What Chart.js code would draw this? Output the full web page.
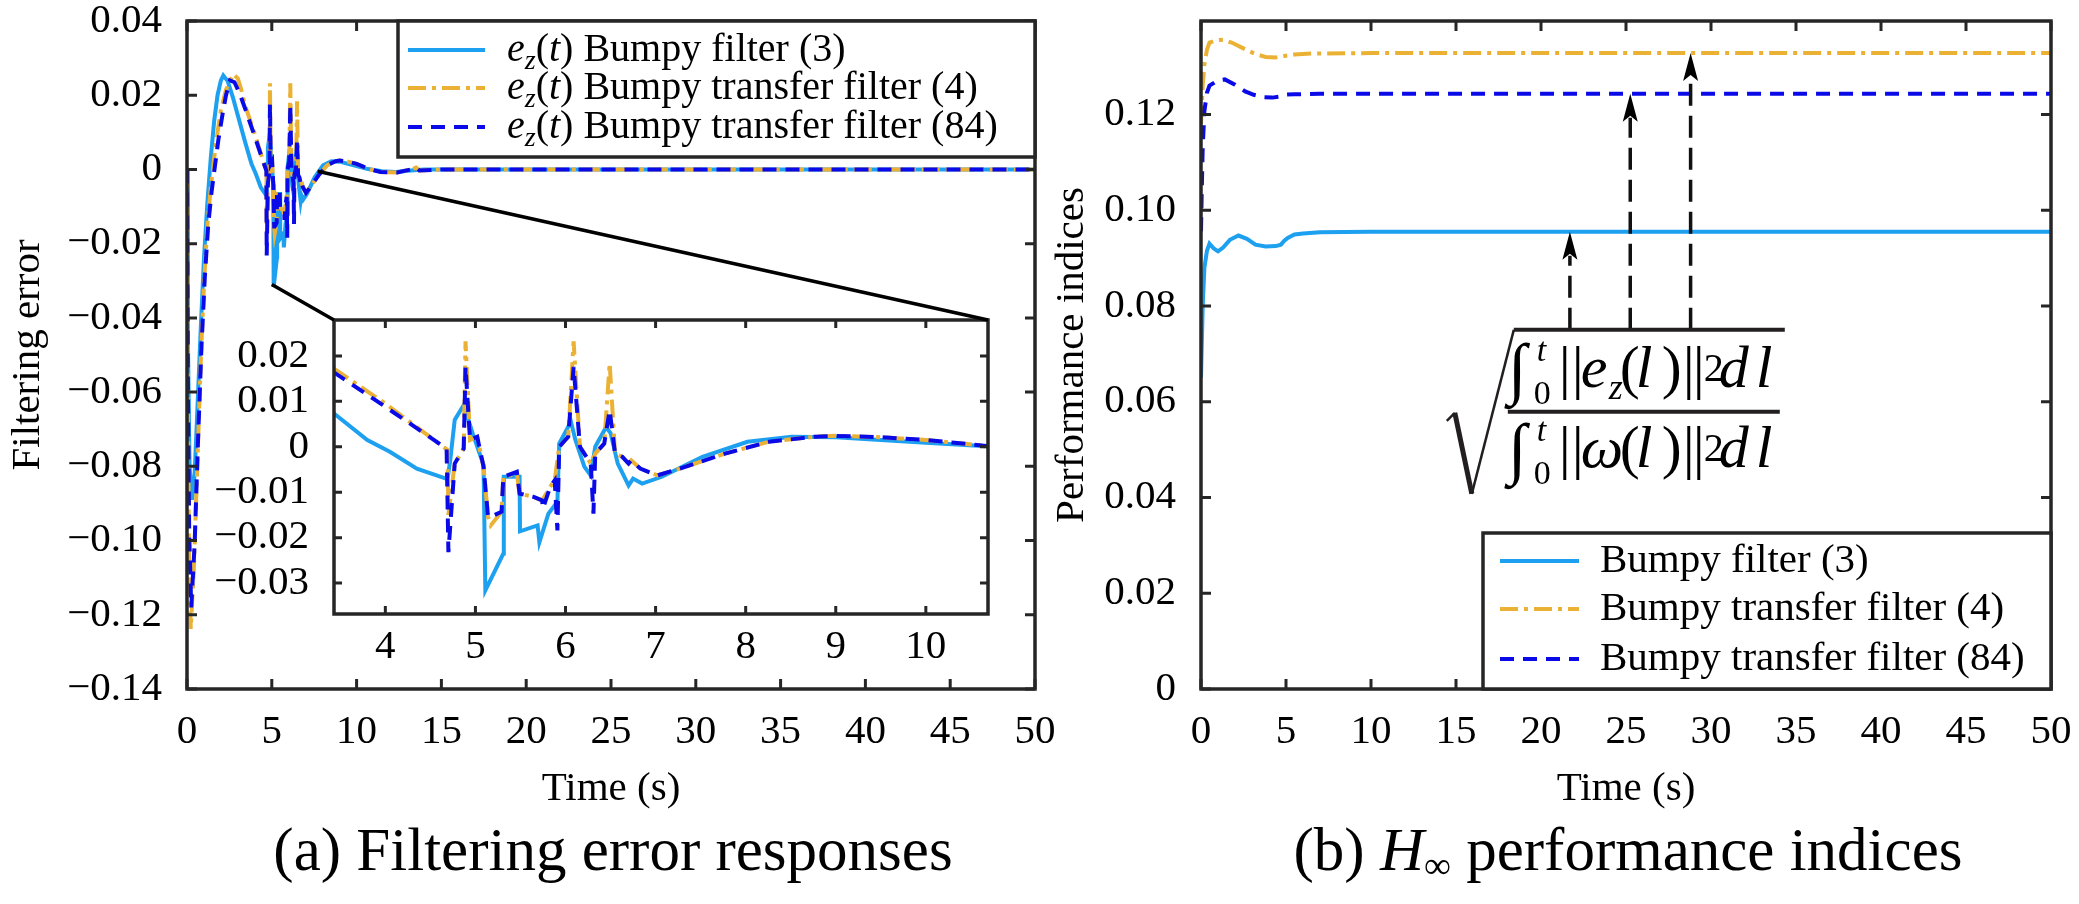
<!DOCTYPE html>
<html>
<head>
<meta charset="utf-8">
<script src="https://cdn.jsdelivr.net/npm/chart.js@4.4.1/dist/chart.umd.min.js"></script>
<style>
  body { margin: 0; background: #fff; width: 2079px; height: 904px; overflow: hidden; position: relative;
         font-family: "Liberation Serif", "Times New Roman", serif; }
  canvas { position: absolute; top: 0; }
  .cap { position: absolute; top: 819px; font-size: 61px; line-height: 61px; white-space: nowrap; transform: translateX(-50%); color: #000; }
  .cap sub { font-size: 0.62em; vertical-align: -0.22em; line-height: 0; }
</style>
</head>
<body>
<canvas id="errChart" width="1100" height="904" style="left:0"></canvas>
<canvas id="zoomChart" width="1100" height="904" style="left:0"></canvas>
<canvas id="perfChart" width="1039" height="904" style="left:1040px"></canvas>
<div class="cap" style="left:613px">(a) Filtering error responses</div>
<div class="cap" style="left:1628px">(b) <i>H</i><sub>∞</sub> performance indices</div>
<script>
// ---- data ----
const seriesNames = ['Bumpy filter (3)', 'Bumpy transfer filter (4)', 'Bumpy transfer filter (84)'];

const timeTicks = [0, 5, 10, 15, 20, 25, 30, 35, 40, 45, 50];
const errTicks = [-0.14, -0.12, -0.10, -0.08, -0.06, -0.04, -0.02, 0, 0.02, 0.04];
const zoomTimeTicks = [4, 5, 6, 7, 8, 9, 10];
const zoomErrTicks = [-0.03, -0.02, -0.01, 0, 0.01, 0.02];
const perfTicks = [0, 0.02, 0.04, 0.06, 0.08, 0.10, 0.12];

const timeBumpy = [0, 0.05, 0.15, 0.3, 0.45, 0.6, 0.8, 1.0, 1.2, 1.4, 1.6, 1.8, 2.0, 2.14, 2.4, 2.7, 3.0, 3.42, 3.8, 4.05,
  4.35, 4.69, 4.72, 4.77, 4.87, 4.97, 5.09, 5.11, 5.31, 5.315, 5.49, 5.495, 5.69, 5.71, 5.81, 5.91, 5.93, 6.06, 6.11, 6.21,
  6.28, 6.33, 6.45, 6.5, 6.58, 6.70, 6.75, 6.85, 7.07, 7.52, 8.02, 8.51, 9.0, 9.5, 10.0, 10.67, 11.5, 12.3, 13.2, 14, 16, 50];
const errBumpy = [0, -0.045, -0.080, -0.089, -0.082, -0.066, -0.044, -0.024, -0.009, 0.003, 0.013, 0.020, 0.024, 0.0253, 0.0238, 0.0195, 0.0145, 0.0075, 0.0015, -0.0011,
  -0.0048, -0.0071, -0.003, 0.0059, 0.0092, 0.0029, -0.004, -0.0316, -0.0235, -0.0066, -0.0066, -0.0186, -0.0173, -0.021, -0.0147, -0.0121, 0.0007, 0.0055, 0.0015, -0.0044,
  -0.0063, 0, 0.0043, 0.003, -0.0037, -0.0085, -0.007, -0.0081, -0.0066, -0.0022, 0.0011, 0.0022, 0.0021, 0.0015, 0.0009, 0.0001, -0.0005, -0.0007, -0.0003, 0, 0, 0];

const timeTrans4 = [0, 0.05, 0.12, 0.22, 0.4, 0.6, 0.8, 1.0, 1.2, 1.4, 1.6, 1.8, 2.0, 2.3, 2.73, 3.0, 3.2, 3.42, 4.0, 4.69,
  4.70, 4.77, 4.87, 4.89, 4.94, 5.02, 5.09, 5.14, 5.17, 5.29, 5.31, 5.46, 5.49, 5.64, 5.74, 5.83, 5.88, 5.93, 6.03, 6.09,
  6.16, 6.28, 6.33, 6.43, 6.49, 6.55, 6.63, 6.70, 6.73, 6.83, 7.02, 7.27, 7.77, 8.26, 8.76, 9.0, 9.5, 10.0, 10.67, 11.4,
  12.4, 13.3, 13.5, 13.7, 15, 50];
const errTrans4 = [0, -0.06, -0.105, -0.1238, -0.108, -0.081, -0.053, -0.031, -0.015, -0.005, 0.003, 0.010, 0.016, 0.0215, 0.0257, 0.0245, 0.0215, 0.0173, 0.0095, -0.0007,
  -0.015, -0.0037, -0.0004, 0.0232, 0.0015, 0.0022, -0.0044, -0.0154, -0.0173, -0.0143, -0.0066, -0.006, -0.0103, -0.011, -0.0118, -0.0088, -0.0074, 0, 0.0022, 0.0232,
  0, -0.0037, -0.0015, 0.0007, 0.0184, -0.0015, -0.0022, -0.0037, -0.003, -0.0048, -0.0063, -0.0048, -0.0015, 0.0011, 0.0022, 0.0024, 0.0021, 0.0015, 0.0002, -0.0007,
  -0.0008, 0.0001, 0.0005, -0.0003, 0, 0];

const timeTrans84 = [0, 0.05, 0.13, 0.25, 0.45, 0.65, 0.85, 1.05, 1.25, 1.45, 1.65, 1.85, 2.1, 2.3, 2.53, 2.8, 3.1, 3.42, 4.0, 4.68,
  4.70, 4.77, 4.87, 4.89, 4.94, 5.02, 5.09, 5.14, 5.17, 5.29, 5.31, 5.46, 5.49, 5.64, 5.74, 5.75, 5.83, 5.88, 5.91, 5.93,
  6.03, 6.09, 6.16, 6.28, 6.31, 6.33, 6.43, 6.49, 6.55, 6.63, 6.70, 6.73, 6.83, 7.02, 7.27, 7.77, 8.26, 8.76, 9.0, 9.5,
  10.0, 10.67, 11.4, 12.4, 13.3, 13.5, 13.7, 15, 50];
const errTrans84 = [0, -0.055, -0.098, -0.118, -0.101, -0.073, -0.048, -0.029, -0.015, -0.006, 0.001, 0.008, 0.015, 0.020, 0.024, 0.0235, 0.0205, 0.0165, 0.0088, -0.0004,
  -0.0232, -0.0037, -0.0004, 0.0176, 0.0015, 0.0022, -0.0044, -0.0154, -0.0154, -0.0143, -0.0066, -0.0055, -0.0103, -0.011, -0.0118, -0.0136, -0.0088, -0.0074, -0.0184, 0,
  0.0022, 0.0176, 0, -0.0037, -0.0147, -0.0015, 0.0007, 0.0081, -0.0015, -0.0022, -0.0037, -0.003, -0.0048, -0.0063, -0.0048, -0.0015, 0.0011, 0.0022, 0.0024, 0.0021,
  0.0015, 0.0002, -0.0007, -0.0008, 0.0001, 0.0005, -0.0003, 0, 0];

const timePerf3 = [0, 0.1, 0.2, 0.35, 0.5, 0.75, 1.0, 1.3, 1.7, 2.2, 2.7, 3.2, 3.8, 4.4, 4.7, 4.9, 5.1, 5.5, 6.0, 7.0, 10, 50];
const perf3 = [0.065, 0.080, 0.088, 0.0915, 0.093, 0.092, 0.0914, 0.0922, 0.0938, 0.0947, 0.094, 0.0928, 0.0924, 0.0925, 0.0928, 0.0936, 0.0942, 0.0949, 0.0951, 0.0954, 0.0955, 0.0955];
const timePerf4 = [0, 0.1, 0.2, 0.35, 0.5, 0.9, 1.3, 1.8, 2.6, 3.2, 3.8, 4.4, 4.9, 5.5, 6.5, 10, 50];
const perf4 = [0.118, 0.126, 0.1304, 0.1335, 0.135, 0.1355, 0.1356, 0.135, 0.1336, 0.1326, 0.132, 0.1319, 0.1322, 0.1325, 0.1327, 0.1328, 0.1328];
const timePerf84 = [0, 0.05, 0.1, 0.2, 0.35, 0.5, 1.0, 1.4, 2.0, 2.6, 3.1, 3.7, 4.2, 4.6, 4.9, 5.5, 7, 50];
const perf84 = [0.0956, 0.105, 0.113, 0.1207, 0.1245, 0.126, 0.1271, 0.1273, 0.1262, 0.1248, 0.1241, 0.1236, 0.1235, 0.1237, 0.1241, 0.1242, 0.1243, 0.1243];

// zoom window and connector anchors on the main error plot (time, error)
const zoomRange = { tMin: 3.43, tMax: 10.69, eMin: -0.0368, eMax: 0.0279 };
const zoomFrom = [[5.0, -0.031], [7.7, -0.0005]];
// arrows in panel (b): time of each arrow, series it points at, level of the formula bar
const arrowTimes = [21.7, 25.25, 28.8];
const arrowSeries = [0, 2, 1];
const formulaAt = [18.4, 0.075];

// ---- styles ----
const serif = '"Liberation Serif", "Times New Roman", serif';
const axisColor = '#262626';
Chart.defaults.font.family = serif;
Chart.defaults.color = '#000';

const styles = [
  { borderColor: '#1ea0f0', borderDash: [], order: 3 },
  { borderColor: '#ebb134', borderDash: [18, 6, 4, 6], order: 2 },
  { borderColor: '#0a0ae8', borderDash: [14, 9], order: 1 }
];

function series(times, values, i) {
  return Object.assign({
    label: seriesNames[i],
    data: times.map((t, k) => ({ x: t, y: values[k] })),
    pointRadius: 0, borderWidth: 4, tension: 0, fill: false
  }, styles[i]);
}

function fmt(v) {
  if (Math.abs(v) < 1e-9) return '0';
  return (v < 0 ? '\u2212' : '') + Math.abs(v).toFixed(2);
}

function setTicks(list) {
  return s => { s.ticks = list.map(v => ({ value: v })); };
}

function interp(times, values, t) {
  for (let k = 1; k < times.length; k++) {
    if (t <= times[k]) {
      const f = (t - times[k - 1]) / (times[k] - times[k - 1]);
      return values[k - 1] + f * (values[k] - values[k - 1]);
    }
  }
  return values[values.length - 1];
}

function xAxis(min, max, ticks, pad, height, title) {
  return {
    type: 'linear', min: min, max: max,
    afterBuildTicks: setTicks(ticks),
    ticks: { font: { size: 41 }, padding: pad, autoSkip: false, maxRotation: 0, callback: v => String(v) },
    grid: { display: false, drawTicks: false, tickLength: 0 },
    border: { display: false },
    title: title ? { display: true, text: title, font: { size: 41 }, padding: 0 } : { display: false },
    afterFit(s) { s.height = height; s.paddingLeft = 0; s.paddingRight = 0; }
  };
}

function yAxis(min, max, ticks, width, title) {
  return {
    type: 'linear', min: min, max: max,
    afterBuildTicks: setTicks(ticks),
    ticks: { font: { size: 41 }, padding: 25, autoSkip: false, callback: fmt },
    grid: { display: false, drawTicks: false, tickLength: 0 },
    border: { display: false },
    title: title ? { display: true, text: title, font: { size: 41 }, padding: 0 } : { display: false },
    afterFit(s) { s.width = width; s.paddingTop = 0; s.paddingBottom = 0; }
  };
}

// inward ticks on all four sides plus the box
const frameTicks = {
  id: 'frameTicks',
  beforeDatasetsDraw(chart, args, o) {
    if (!o.fill) return;
    const a = chart.chartArea, ctx = chart.ctx;
    ctx.save(); ctx.fillStyle = '#fff'; ctx.fillRect(a.left, a.top, a.width, a.height); ctx.restore();
  },
  afterDatasetsDraw(chart, args, o) {
    const { ctx, chartArea: a, scales: { x, y } } = chart;
    const len = o.len || 10;
    ctx.save();
    ctx.strokeStyle = axisColor;
    ctx.lineWidth = 3;
    ctx.beginPath();
    x.ticks.forEach(t => {
      const p = x.getPixelForValue(t.value);
      ctx.moveTo(p, a.bottom); ctx.lineTo(p, a.bottom - len);
      ctx.moveTo(p, a.top); ctx.lineTo(p, a.top + len);
    });
    y.ticks.forEach(t => {
      const p = y.getPixelForValue(t.value);
      ctx.moveTo(a.left, p); ctx.lineTo(a.left + len, p);
      ctx.moveTo(a.right, p); ctx.lineTo(a.right - len, p);
    });
    ctx.stroke();
    ctx.lineWidth = 3.5;
    ctx.strokeRect(a.left, a.top, a.width, a.height);
    ctx.restore();
  }
};

function drawRich(ctx, x, y, parts, size) {
  ctx.textBaseline = 'middle';
  ctx.textAlign = 'left';
  ctx.fillStyle = '#000';
  parts.forEach(p => {
    const s = p.sub ? size * 0.7 : size;
    ctx.font = (p.it ? 'italic ' : '') + s + 'px ' + serif;
    ctx.fillText(p.t, x, y + (p.sub ? size * 0.3 : 0));
    x += ctx.measureText(p.t).width;
  });
}

const legendBox = {
  id: 'legendBox',
  afterDraw(chart, args, o) {
    const { ctx, chartArea: a } = chart;
    const left = a.right - o.width;
    const top = o.atTop ? a.top : a.bottom - o.height;
    ctx.save();
    ctx.fillStyle = '#fff';
    ctx.fillRect(left, top, o.width, o.height);
    ctx.strokeStyle = axisColor;
    ctx.lineWidth = 3.5;
    ctx.strokeRect(left, top, o.width, o.height);
    chart.data.datasets.forEach((ds, i) => {
      const y = top + o.rows[i];
      ctx.strokeStyle = ds.borderColor;
      ctx.lineWidth = ds.borderWidth;
      ctx.setLineDash(ds.borderDash);
      ctx.beginPath(); ctx.moveTo(left + o.lineFrom, y); ctx.lineTo(left + o.lineTo, y); ctx.stroke();
      ctx.setLineDash([]);
      drawRich(ctx, left + o.textX, y, o.prefix.concat([{ t: o.prefix.length ? ' ' + ds.label : ds.label }]), o.size);
    });
    ctx.restore();
  }
};

// ---- (a) filtering error ----
const errDatasets = () => [series(timeBumpy, errBumpy, 0), series(timeTrans4, errTrans4, 1), series(timeTrans84, errTrans84, 2)];

const errChart = new Chart(document.getElementById('errChart'), {
  type: 'line',
  data: { datasets: errDatasets() },
  options: {
    responsive: false, animation: false, devicePixelRatio: 1,
    layout: { padding: { left: 4, top: 21, right: 65, bottom: 90 } },
    plugins: {
      legend: { display: false }, tooltip: { enabled: false },
      frameTicks: { len: 10 },
      legendBox: {
        atTop: true, width: 637, height: 136, rows: [29, 67, 106], lineFrom: 10, lineTo: 87, textX: 109, size: 40,
        prefix: [{ t: 'e', it: true }, { t: 'z', it: true, sub: true }, { t: '(' }, { t: 't', it: true }, { t: ')' }]
      }
    },
    scales: {
      x: xAxis(0, 50, timeTicks, 19, 904 - 689 - 90, 'Time (s)'),
      y: yAxis(-0.14, 0.04, errTicks, 183, 'Filtering error')
    }
  },
  plugins: [frameTicks, legendBox]
});

// ---- zoomed inset, drawn on a transparent canvas over panel (a) ----
const zoomLinks = {
  id: 'zoomLinks',
  afterDraw(chart) {
    const ctx = chart.ctx, a = chart.chartArea;
    const mx = errChart.scales.x, my = errChart.scales.y;
    const corners = [[a.left, a.top], [a.right, a.top]];
    ctx.save();
    ctx.strokeStyle = '#000';
    ctx.lineWidth = 3.5;
    ctx.beginPath();
    zoomFrom.forEach((p, i) => {
      ctx.moveTo(mx.getPixelForValue(p[0]), my.getPixelForValue(p[1]));
      ctx.lineTo(corners[i][0], corners[i][1]);
    });
    ctx.stroke();
    ctx.restore();
  }
};

new Chart(document.getElementById('zoomChart'), {
  type: 'line',
  data: { datasets: errDatasets() },
  options: {
    responsive: false, animation: false, devicePixelRatio: 1,
    layout: { padding: { left: 204, top: 320, right: 112, bottom: 220 } },
    plugins: { legend: { display: false }, tooltip: { enabled: false }, frameTicks: { len: 8, fill: true } },
    scales: {
      x: xAxis(zoomRange.tMin, zoomRange.tMax, zoomTimeTicks, 9, 904 - 614 - 220, null),
      y: yAxis(zoomRange.eMin, zoomRange.eMax, zoomErrTicks, 130, null)
    }
  },
  plugins: [frameTicks, zoomLinks]
});

// ---- (b) performance indices ----
const perfTimes = [timePerf3, timePerf4, timePerf84];
const perfValues = [perf3, perf4, perf84];

function glyph(ctx, x, y, text, size, italic) {
  ctx.font = (italic ? 'italic ' : '') + size + 'px ' + serif;
  ctx.fillText(text, x, y);
}

const formula = {
  id: 'formula',
  afterDatasetsDraw(chart) {
    const { ctx, scales: { x, y } } = chart;
    const ax = x.getPixelForValue(formulaAt[0]);
    const ay = y.getPixelForValue(formulaAt[1]);
    ctx.save();
    ctx.strokeStyle = '#111';
    ctx.fillStyle = '#000';
    // dashed arrows from the radical bar up to each curve
    arrowTimes.forEach((t, i) => {
      const s = arrowSeries[i];
      const px = x.getPixelForValue(t);
      const tip = y.getPixelForValue(interp(perfTimes[s], perfValues[s], t));
      ctx.lineWidth = 3.5;
      ctx.setLineDash([22, 10]);
      ctx.beginPath(); ctx.moveTo(px, ay); ctx.lineTo(px, tip + 24); ctx.stroke();
      ctx.setLineDash([]);
      ctx.beginPath();
      ctx.moveTo(px, tip); ctx.lineTo(px - 7.5, tip + 28); ctx.lineTo(px, tip + 22); ctx.lineTo(px + 7.5, tip + 28);
      ctx.closePath(); ctx.fill();
    });
    // radical sign, vinculum and fraction bar
    ctx.strokeStyle = '#231f20';
    ctx.lineCap = 'butt';
    ctx.lineWidth = 2.5;
    ctx.beginPath(); ctx.moveTo(ax - 67, ay + 91); ctx.lineTo(ax - 59, ay + 83); ctx.stroke();
    ctx.lineWidth = 5;
    ctx.beginPath(); ctx.moveTo(ax - 59, ay + 83); ctx.lineTo(ax - 42, ay + 164); ctx.stroke();
    ctx.lineWidth = 2.5;
    ctx.beginPath(); ctx.moveTo(ax - 42, ay + 164); ctx.lineTo(ax, ay); ctx.stroke();
    ctx.lineWidth = 4;
    ctx.beginPath(); ctx.moveTo(ax, ay); ctx.lineTo(ax + 271, ay); ctx.stroke();
    ctx.beginPath(); ctx.moveTo(ax - 6, ay + 82); ctx.lineTo(ax + 266, ay + 82); ctx.stroke();
    // numerator and denominator glyphs
    ctx.textBaseline = 'alphabetic';
    ctx.textAlign = 'left';
    [[57, 'e'], [137, '\u03c9']].forEach(([b, sym], row) => {
      glyph(ctx, ax - 6, ay + b + 4, '\u222b', 68, true);
      glyph(ctx, ax + 20, ay + b + 17, '0', 34, false);
      glyph(ctx, ax + 23, ay + b - 26, 't', 34, true);
      glyph(ctx, ax + 45, ay + b, '|', 60, false);
      glyph(ctx, ax + 58, ay + b, '|', 60, false);
      glyph(ctx, ax + 67, ay + b, sym, 60, true);
      if (row === 0) glyph(ctx, ax + 95, ay + b + 12, 'z', 36, true);
      glyph(ctx, ax + 106, ay + b, '(', 60, false);
      glyph(ctx, ax + 122, ay + b, 'l', 60, true);
      glyph(ctx, ax + 148, ay + b, ')', 60, false);
      glyph(ctx, ax + 169, ay + b, '|', 60, false);
      glyph(ctx, ax + 179, ay + b, '|', 60, false);
      glyph(ctx, ax + 190, ay + b - 6, '2', 40, false);
      glyph(ctx, ax + 205, ay + b, 'd', 60, true);
      glyph(ctx, ax + 242, ay + b, 'l', 60, true);
    });
    ctx.restore();
  }
};

new Chart(document.getElementById('perfChart'), {
  type: 'line',
  data: { datasets: [series(timePerf3, perf3, 0), series(timePerf4, perf4, 1), series(timePerf84, perf84, 2)] },
  options: {
    responsive: false, animation: false, devicePixelRatio: 1,
    layout: { padding: { left: 8, top: 21, right: 28, bottom: 90 } },
    plugins: {
      legend: { display: false }, tooltip: { enabled: false },
      frameTicks: { len: 10 },
      legendBox: { atTop: false, width: 568, height: 156, rows: [28, 76, 126], lineFrom: 17, lineTo: 96, textX: 117, size: 41, prefix: [] }
    },
    scales: {
      x: xAxis(0, 50, timeTicks, 19, 904 - 689 - 90, 'Time (s)'),
      y: yAxis(0, 0.1395, perfTicks, 153, 'Performance indices')
    }
  },
  plugins: [frameTicks, formula, legendBox]
});
</script>
</body>
</html>
